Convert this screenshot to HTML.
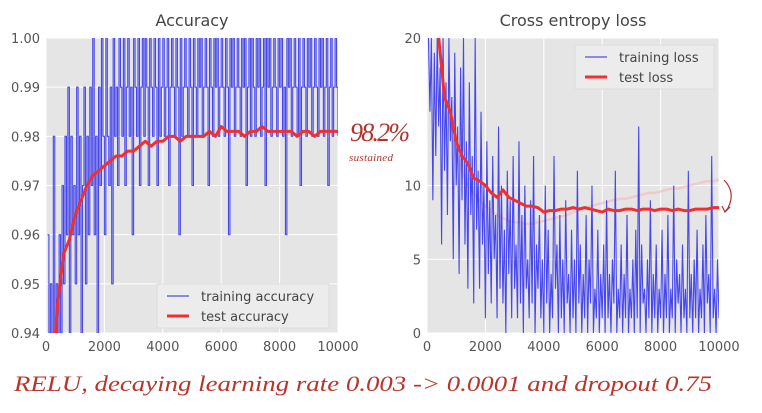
<!DOCTYPE html>
<html><head><meta charset="utf-8">
<style>
html,body{margin:0;padding:0;background:#fff;}
svg{display:block;font-family:"DejaVu Sans","Liberation Sans",sans-serif;}
</style></head>
<body>
<svg id="chart" width="762" height="413" viewBox="0 0 762 413" xmlns="http://www.w3.org/2000/svg"></svg>
<script>
// ---- data ----
const trainStepInterval = 50;
const trainAcc = [
.96,.94,.95,.94,.98,.94,.95,.94,.96,.94,.97,.95,.98,.96,.99,.94,.98,.96,.97,.95,
.99,.96,.98,.94,.97,.99,.95,.98,.96,.99,.97,1.00,.96,.98,.94,.99,.97,1.00,.98,.96,
1.00,.98,.97,.99,.95,1.00,.98,.99,.97,1.00,.99,.98,1.00,.97,.99,1.00,.98,.99,.96,1.00,
.99,.98,1.00,.97,.99,1.00,.98,1.00,.99,.97,1.00,.99,.98,1.00,.99,.97,1.00,.98,.99,1.00,
.98,.99,1.00,.97,.99,1.00,.99,.98,1.00,.99,.96,1.00,.98,.99,1.00,.99,.98,1.00,.99,.97,
1.00,.99,.98,1.00,.99,1.00,.98,.99,1.00,.99,.97,1.00,.99,.98,1.00,.99,1.00,.98,.99,1.00,
.99,.98,1.00,.99,.96,1.00,.99,1.00,.98,.99,1.00,.99,.98,1.00,.99,1.00,.97,.99,1.00,.98,
1.00,.99,.98,1.00,.99,1.00,.98,.99,1.00,.97,1.00,.99,1.00,.98,.99,1.00,.99,.98,1.00,.99,
1.00,.98,.99,.96,1.00,.99,1.00,.98,.99,1.00,.99,.98,1.00,.97,.99,1.00,.99,.98,1.00,.99,
1.00,.98,.99,1.00,.99,.98,1.00,.99,1.00,.98,.99,1.00,.97,.99,1.00,.98,.99,1.00,.99,.98];
const trainLoss = [
20,15,20,9,19,12,20,14,18,6,20,11,17,8,20,13,16,5,19,10,
14,4,18,9,20,6,13,3,17,8,12,2,20,7,11,3,15,6,10,1,
13,4,9,2,12,5,8,1,14,3,10,2,7,0,11,4,9,1,12,3,
6,1,13,2,8,0,10,3,5,1,9,2,12,0,6,3,8,1,5,0,
10,2,7,0,4,1,12,3,6,0,8,1,5,0,9,2,4,0,7,1,
5,0,11,2,6,0,4,1,8,0,5,2,10,0,3,1,7,0,4,1,
6,0,9,1,4,0,5,2,11,0,3,1,6,0,4,1,8,0,3,1,
5,0,7,1,14,0,6,2,3,0,5,1,9,0,4,1,6,0,3,1,
7,0,4,1,8,0,3,1,10,0,5,2,4,0,6,1,3,0,11,1,
4,0,5,1,7,0,3,1,6,0,8,2,4,0,12,1,3,0,5,1];
const stepsTest = [200,400,600,800,1000,1200,1400,1600,1800,2000,2200,2400,2600,2800,3000,3200,3400,3600,3800,4000,4200,4400,4600,4800,5000,5200,5400,5600,5800,6000,6200,6400,6600,6800,7000,7200,7400,7600,7800,8000,8200,8400,8600,8800,9000,9200,9400,9600,9800,10000];
const testAcc = [0.930,0.946,0.956,0.959,0.964,0.967,0.970,0.972,0.973,0.974,0.975,0.976,0.976,0.977,0.977,0.978,0.979,0.978,0.979,0.979,0.980,0.980,0.979,0.980,0.980,0.980,0.980,0.981,0.980,0.982,0.981,0.981,0.981,0.980,0.981,0.981,0.982,0.981,0.981,0.981,0.981,0.981,0.980,0.981,0.981,0.980,0.981,0.981,0.981,0.981];
const testLoss = [22,20,16,15,13,12,11.5,10.5,10.3,10,9.5,9.2,9.7,9.2,9.0,8.8,8.6,8.6,8.5,8.2,8.3,8.3,8.4,8.4,8.5,8.4,8.5,8.4,8.3,8.2,8.4,8.3,8.3,8.4,8.4,8.3,8.4,8.4,8.3,8.4,8.4,8.3,8.4,8.3,8.3,8.4,8.4,8.4,8.5,8.5];
const ghostLoss = [22,20,16,14,12,11,10,9.5,9,8.6,8.3,8.0,7.8,7.6,7.5,7.5,7.4,7.4,7.5,7.6,7.7,7.8,7.9,8.0,8.2,8.3,8.5,8.6,8.7,8.8,8.9,9.0,9.1,9.1,9.2,9.3,9.4,9.5,9.5,9.6,9.7,9.8,9.8,9.9,10.0,10.1,10.2,10.3,10.3,10.4];
const accTicks = [0.94,0.95,0.96,0.97,0.98,0.99,1.00];
const lossTicks = [0,5,10,20];
const xTicks = [0,2000,4000,6000,8000,10000];

const NS="http://www.w3.org/2000/svg";
const svg=document.getElementById('chart');
function mk(tag,attrs,parent){const e=document.createElementNS(NS,tag);for(const k in attrs)e.setAttribute(k,attrs[k]);(parent||svg).appendChild(e);return e;}

function panel(opt){
  const g=mk('g',{});
  
  
  const X=v=>opt.x0+(v-0)/10000*(opt.x1-opt.x0);
  const Y=v=>opt.y1-(v-opt.ymin)/(opt.ymax-opt.ymin)*(opt.y1-opt.y0);
  const bg=mk('rect',{x:opt.x0,y:opt.y0,width:opt.x1-opt.x0,height:opt.y1-opt.y0,fill:'#e5e5e5'},g);
  
  
  const clipId=opt.name+'-clip';
  const cp=mk('clipPath',{id:clipId},g);
  mk('rect',{x:opt.x0,y:opt.y0,width:opt.x1-opt.x0,height:opt.y1-opt.y0},cp);
  xTicks.forEach(t=>{
    mk('line',{x1:X(t),x2:X(t),y1:opt.y0,y2:opt.y1,stroke:'#fff','stroke-width':1},g);
    const tx=mk('text',{x:X(t),y:opt.y1+18,'text-anchor':'middle','font-size':13,fill:'#555'},g);
    tx.textContent=t;
    
    
  });
  opt.yTicks.forEach(t=>{
    mk('line',{x1:opt.x0,x2:opt.x1,y1:Y(t),y2:Y(t),stroke:'#fff','stroke-width':1},g);
    const ty=mk('text',{x:opt.x0-6,y:Y(t)+5,'text-anchor':'end','font-size':13,fill:'#555'},g);
    ty.textContent=opt.fmt(t);
    
    
  });
  const lg=mk('g',{'clip-path':'url(#'+clipId+')'},g);
  if(opt.ghost){
    const gp=mk('polyline',{points:opt.ghost.map((v,i)=>X(stepsTest[i])+','+Y(v)).join(' '),fill:'none',stroke:'#f3b8b8','stroke-width':2.5,opacity:0.6},lg);
    
    
  }
  let pts=[];
  opt.train.forEach((v,i)=>{
    const s=(i+1)*trainStepInterval;
    if(opt.step){ if(i>0) pts.push(X(s)+','+Y(opt.train[i-1])); pts.push(X(s)+','+Y(v)); }
    else pts.push(X(s)+','+Y(v));
  });
  const tl=mk('polyline',{points:pts.join(' '),fill:'none',stroke:'#2a2aee','stroke-width':1.1,opacity:0.85},lg);
  
  
  const te=mk('polyline',{points:stepsTest.map((s,i)=>X(s)+','+Y(opt.test[i])).join(' '),fill:'none',stroke:'#f03030','stroke-width':3,'stroke-linejoin':'round'},lg);
  
  
  const title=mk('text',{x:(opt.x0+opt.x1)/2,y:26,'text-anchor':'middle','font-size':16,fill:'#444'},g);
  title.textContent=opt.title;
  
  
  const L=opt.legend;
  const lgd=mk('g',{},g);
  
  
  mk('rect',{x:L.x,y:L.y,width:L.w,height:44,fill:'#ececec',stroke:'#ddd','fill-opacity':0.9},lgd);
  mk('line',{x1:L.x+10,x2:L.x+32,y1:L.y+12,y2:L.y+12,stroke:'#6666ee','stroke-width':1.5},lgd);
  mk('line',{x1:L.x+10,x2:L.x+32,y1:L.y+32,y2:L.y+32,stroke:'#f03030','stroke-width':3},lgd);
  const e1=mk('text',{x:L.x+44,y:L.y+17,'font-size':13,fill:'#444'},lgd);e1.textContent=L.a;
  
  
  const e2=mk('text',{x:L.x+44,y:L.y+37,'font-size':13,fill:'#444'},lgd);e2.textContent=L.b;
  
  
}

panel({name:'accuracy-chart',title:'Accuracy',x0:46,x1:338,y0:38,y1:333,ymin:0.94,ymax:1.0,yTicks:accTicks,fmt:t=>t.toFixed(2),train:trainAcc,test:testAcc,step:true,
  legend:{x:157,y:284,w:172,a:'training accuracy',b:'test accuracy'}});
panel({name:'loss-chart',title:'Cross entropy loss',x0:427,x1:719,y0:38,y1:333,ymin:0,ymax:20,yTicks:lossTicks,fmt:t=>t,train:trainLoss,test:testLoss,step:false,ghost:ghostLoss,
  legend:{x:575,y:45,w:139,a:'training loss',b:'test loss'}});

const hand='"Liberation Serif",serif';
const a1=mk('text',{x:350,y:141,'font-size':26,'font-style':'italic',fill:'#b0322a','font-family':hand,textLength:60});
a1.textContent='98.2%';


const a2=mk('text',{x:349,y:161,'font-size':11,'font-style':'italic',fill:'#b0322a','font-family':hand,textLength:44});
a2.textContent='sustained';


const br=mk('path',{d:'M724,180 Q736,192 728,208 L725,212 M722,206 L725,212 L730,207',fill:'none',stroke:'#b0322a','stroke-width':1.2});


const cap=mk('text',{x:14,y:391,'font-size':22,'font-style':'italic',fill:'#b8352c','font-family':hand,textLength:698,lengthAdjust:'spacingAndGlyphs'});
cap.textContent='RELU, decaying learning rate 0.003 -> 0.0001 and dropout 0.75';


</script>
</body></html>
